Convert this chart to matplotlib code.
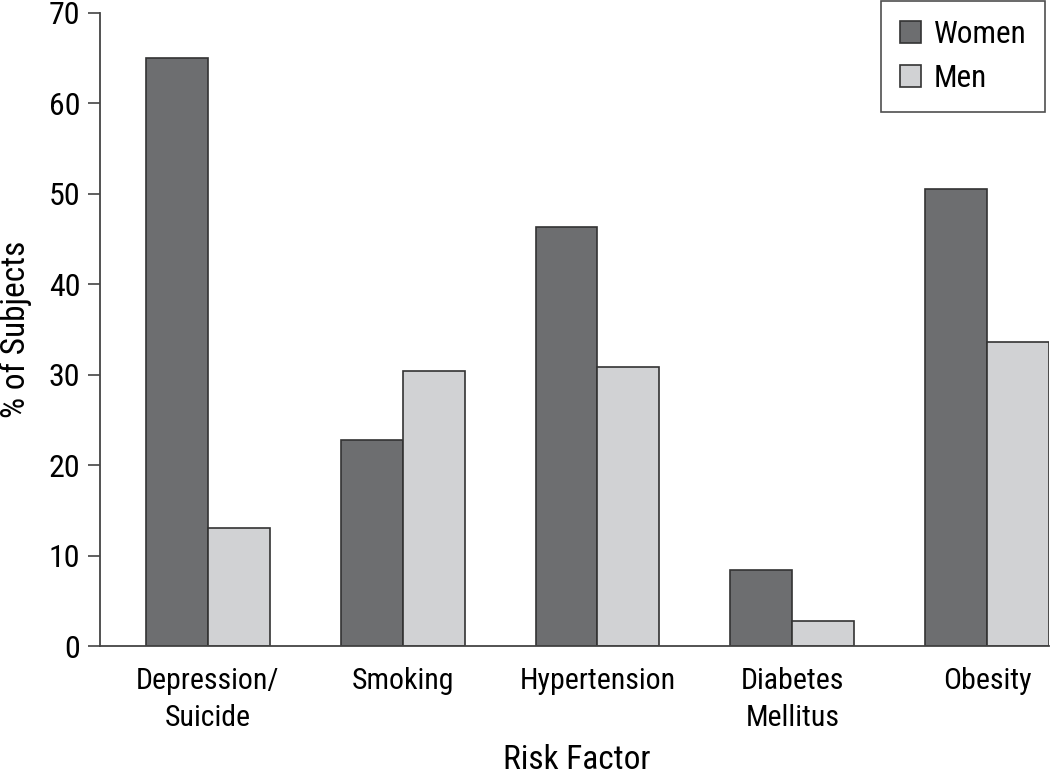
import matplotlib
matplotlib.use("Agg")
import matplotlib.pyplot as plt
import numpy as np
from matplotlib import font_manager

categories = ["Depression/\nSuicide", "Smoking", "Hypertension", "Diabetes\nMellitus", "Obesity"]
women = [65.0, 22.8, 46.3, 8.4, 50.5]
men = [13.05, 30.4, 30.9, 2.8, 33.6]
yticks = [0, 10, 20, 30, 40, 50, 60, 70]

names = {f.name for f in font_manager.fontManager.ttflist}
fam = [n for n in ["Roboto Condensed", "Liberation Sans Narrow", "Liberation Sans", "DejaVu Sans"] if n in names]
plt.rcParams['font.family'] = fam

fig = plt.figure(figsize=(10.5, 7.77), dpi=100)
ax = fig.add_axes([100/1050, 1-646/777, 949/1050, 633/777])

x = np.arange(len(categories))
w = 62/195
ax.bar(x - w/2, women, w, color="#6d6e70", edgecolor="#333333", linewidth=1.2, label="Women")
ax.bar(x + w/2, men, w, color="#d1d2d4", edgecolor="#333333", linewidth=1.2, label="Men")

ax.set_xlim(-108/195, 4 + w)
ax.set_ylim(0, 70)
ax.set_yticks(yticks)
ax.set_xticks(x)
ax.set_xticklabels(categories, fontsize=21.5, linespacing=1.4)
ax.tick_params(axis='y', labelsize=23, length=9, width=1.2, color="#444444", pad=5)
ax.tick_params(axis='x', length=0, pad=15)
for s in ["top", "right"]:
    ax.spines[s].set_visible(False)
for s in ["left", "bottom"]:
    ax.spines[s].set_linewidth(1.3)
    ax.spines[s].set_color("#444444")

ax.set_ylabel("% of Subjects", fontsize=24, labelpad=12)
ax.set_xlabel("Risk Factor", fontsize=24)
ax.xaxis.label.set_va('bottom')
ax.xaxis.set_label_coords(0.502, (646 - 776) / 633)

leg = ax.legend(loc="upper right", bbox_to_anchor=(1045/1050, 1-1/777), bbox_transform=fig.transFigure,
                fontsize=22.5, frameon=True, fancybox=False, edgecolor="#222222",
                handlelength=0.68, handleheight=0.68, handletextpad=0.4, borderpad=0.6,
                labelspacing=0.48, borderaxespad=0)
leg.get_frame().set_linewidth(1.2)

fig.savefig("out.png", dpi=100)
